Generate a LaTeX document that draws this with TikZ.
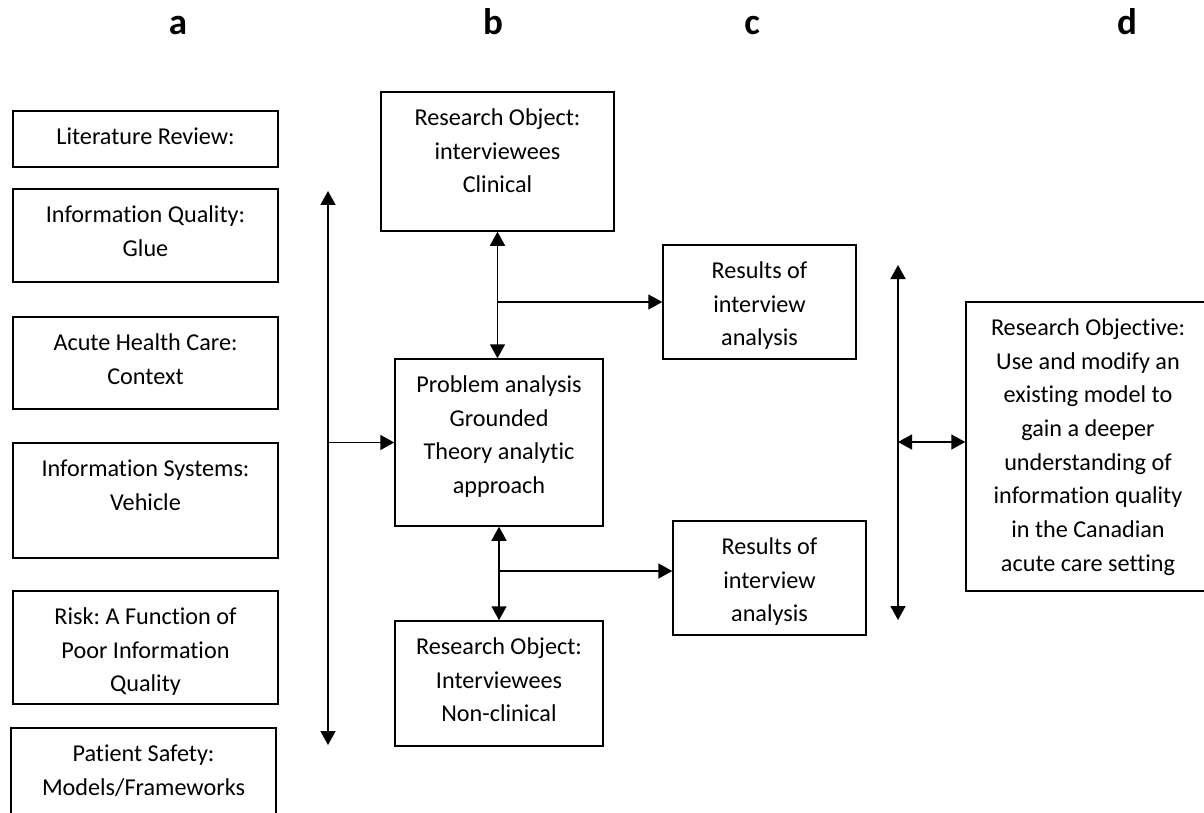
\documentclass[tikz,border=0pt]{standalone}
\usepackage{fontspec}
\setmainfont{Carlito}[Ligatures={NoCommon}]
\usetikzlibrary{arrows.meta,calc}
\frenchspacing
\begin{document}
\begin{tikzpicture}[x=1pt,y=-1pt,
  box/.style={draw, line width=1.5pt, inner sep=0pt},
  txt/.style={anchor=north, inner sep=0pt, align=center, font=\fontsize{24.2}{33.7}\selectfont},
  hdr/.style={anchor=base, inner sep=0pt, font=\fontsize{37}{40}\selectfont\bfseries},
  con/.style={line width=1.6pt, -{Triangle[length=14pt,width=15pt]}},
  dcon/.style={line width=1.6pt, {Triangle[length=14pt,width=15pt]}-{Triangle[length=14pt,width=15pt]}}
]
\useasboundingbox (0,0) rectangle (1204,813);
\clip (0,0) rectangle (1204,813);
\newcommand{\mkbox}[6]{%
  \node[box, minimum width=#4pt, minimum height=#5pt] (#1) at (#2,#3) {};
  \node[txt] (#1-t) at ([yshift=-9pt]#1.north) {\rule{0pt}{25pt}#6};
}
% headers
\node[hdr] (ha) at (178,35) {a};
\node[hdr] (hb) at (493,35) {b};
\node[hdr] (hc) at (752,35) {c};
\node[hdr] (hd) at (1127,35) {d};
% column a
\mkbox{lit}{145.5}{139}{265}{56}{Literature Review:}
\mkbox{iq}{145.5}{235.5}{265}{93}{Information Quality:\\Glue}
\mkbox{ahc}{145.5}{363}{265}{92}{Acute Health Care:\\Context}
\mkbox{is}{145.5}{500.5}{265}{115}{Information Systems:\\Vehicle}
\mkbox{risk}{145.5}{647.5}{265}{113}{Risk: A Function of\\Poor Information\\Quality}
\mkbox{ps}{143.5}{779}{265}{102}{Patient Safety:\\Models/Frameworks}
% column b
\mkbox{roc}{497.5}{161.5}{233}{139}{Research Object:\\interviewees\\Clinical}
\mkbox{pa}{499}{442.5}{208}{167}{Problem analysis\\Grounded\\Theory analytic\\approach}
\mkbox{ron}{499}{683.5}{208}{125}{Research Object:\\Interviewees\\Non-clinical}
% column c
\mkbox{ra}{759.5}{302}{193}{114}{Results of\\interview\\analysis}
\mkbox{rb}{769.5}{578}{193}{114}{Results of\\interview\\analysis}
% column d
\mkbox{obj}{1088}{446.5}{244}{289}{Research Objective:\\Use and modify an\\existing model to\\gain a deeper\\understanding of\\information quality\\in the Canadian\\acute care setting}
% connectors
\coordinate (atop) at (328,191);
\coordinate (abot) at (328,745);
\draw[dcon] (atop) -- (abot);
\coordinate (aj) at (328,442.5);
\draw[con] (aj) -- (aj -| pa.west);
\draw[dcon] (roc.south) -- (roc.south |- pa.north);
\coordinate (j1) at (roc.south |- ra.west);
\draw[con] (j1) -- (ra.west);
\draw[dcon] (pa.south) -- (ron.north);
\coordinate (j2) at (499,571);
\draw[con] (j2) -- (j2 -| rb.west);
\coordinate (dtop) at (898,265);
\coordinate (dbot) at (898,620);
\draw[dcon] (dtop) -- (dbot);
\coordinate (dj) at (898,442);
\draw[dcon] (dj) -- (dj -| obj.west);
\end{tikzpicture}
\end{document}
